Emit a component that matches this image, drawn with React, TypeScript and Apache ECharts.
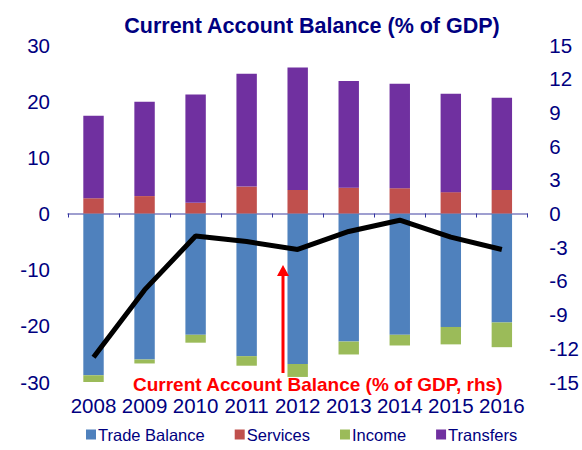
import React, { useEffect, useRef } from "react";
import * as echarts from "echarts";

const years = ["2008", "2009", "2010", "2011", "2012", "2013", "2014", "2015", "2016"];
const tradeBalance = [-28.8, -26.0, -21.6, -25.4, -26.8, -22.8, -21.6, -20.2, -19.4];
const services = [2.7, 3.1, 1.9, 4.8, 4.2, 4.6, 4.5, 3.8, 4.2];
const income = [-1.4, -0.7, -1.4, -1.7, -2.3, -2.3, -1.9, -3.1, -4.4];
const transfers = [14.7, 16.8, 19.3, 20.1, 21.8, 19.0, 18.6, 17.5, 16.4];
const currentAccount = [-12.8, -6.8, -2.0, -2.5, -3.2, -1.6, -0.6, -2.1, -3.2];

const NAVY = "#000080";
const FONT = "Liberation Sans, Arial, sans-serif";

export default function App() {
  const ref = useRef<HTMLDivElement>(null);
  useEffect(() => {
    document.body.style.margin = "0";
    if (!ref.current) return;
    const chart = echarts.init(ref.current, undefined, { renderer: "svg" });
    const barCommon = { type: "bar", stack: "ca", barWidth: "40%", yAxisIndex: 0, xAxisIndex: 0 };
    chart.setOption({
      animation: false,
      title: {
        text: "Current Account Balance (% of GDP)",
        left: 307,
        textAlign: "center",
        top: 10,
        textStyle: { color: NAVY, fontFamily: FONT, fontWeight: "bold", fontSize: 21.5 },
      },
      grid: { left: 68, right: 42, top: 45, bottom: 68 },
      legend: {
        bottom: 2,
        left: 81,
        itemWidth: 10,
        itemHeight: 10,
        itemGap: 30,
        icon: "rect",
        textStyle: { color: NAVY, fontFamily: FONT, fontSize: 16.5, padding: [0, 0, 0, -3] },
        data: ["Trade Balance", "Services", "Income", "Transfers"],
      },
      xAxis: [
        {
          type: "category",
          data: years,
          axisLine: { onZero: true, lineStyle: { color: "#7F7FC0", width: 1.5 } },
          axisTick: { show: true, length: 4, lineStyle: { color: "#3333A0" } },
          axisLabel: { show: false },
        },
        {
          type: "category",
          data: years,
          position: "bottom",
          axisLine: { show: false, onZero: false },
          axisTick: { show: false },
          axisLabel: { color: NAVY, fontFamily: FONT, fontSize: 20.5, margin: 13, interval: 0, hideOverlap: false },
        },
      ],
      yAxis: [
        {
          type: "value",
          min: -30,
          max: 30,
          interval: 10,
          splitLine: { show: false },
          axisLine: { show: false },
          axisTick: { show: false },
          axisLabel: { color: NAVY, fontFamily: FONT, fontSize: 20.5, margin: 18 },
        },
        {
          type: "value",
          min: -15,
          max: 15,
          interval: 3,
          position: "right",
          splitLine: { show: false },
          axisLine: { show: false },
          axisTick: { show: false },
          axisLabel: { color: NAVY, fontFamily: FONT, fontSize: 20.5, margin: 22 },
        },
      ],
      series: [
        { ...barCommon, name: "Trade Balance", data: tradeBalance, itemStyle: { color: "#4F81BD" } },
        { ...barCommon, name: "Services", data: services, itemStyle: { color: "#C0504D" } },
        { ...barCommon, name: "Income", data: income, itemStyle: { color: "#9BBB59" } },
        { ...barCommon, name: "Transfers", data: transfers, itemStyle: { color: "#7030A0" } },
        {
          type: "line",
          name: "Current Account Balance (% of GDP, rhs)",
          data: currentAccount,
          yAxisIndex: 1,
          xAxisIndex: 0,
          symbol: "none",
          lineStyle: { color: "#000000", width: 5 },
          z: 5,
        },
      ],
      graphic: [
        {
          type: "text",
          x: 133,
          y: 384,
          style: {
            text: "Current Account Balance (% of GDP, rhs)",
            fill: "#FF0000",
            font: "bold 19px Liberation Sans, Arial, sans-serif",
            verticalAlign: "middle",
          },
          z: 10,
        },
        {
          type: "line",
          shape: { x1: 283, y1: 373, x2: 283, y2: 274 },
          style: { stroke: "#FF0000", lineWidth: 3 },
          z: 10,
        },
        {
          type: "polygon",
          shape: { points: [[283, 265], [277, 276], [289, 276]] },
          style: { fill: "#FF0000" },
          z: 10,
        },
      ],
    });
    return () => chart.dispose();
  }, []);
  return <div ref={ref} style={{ width: 582, height: 450 }} />;
}
